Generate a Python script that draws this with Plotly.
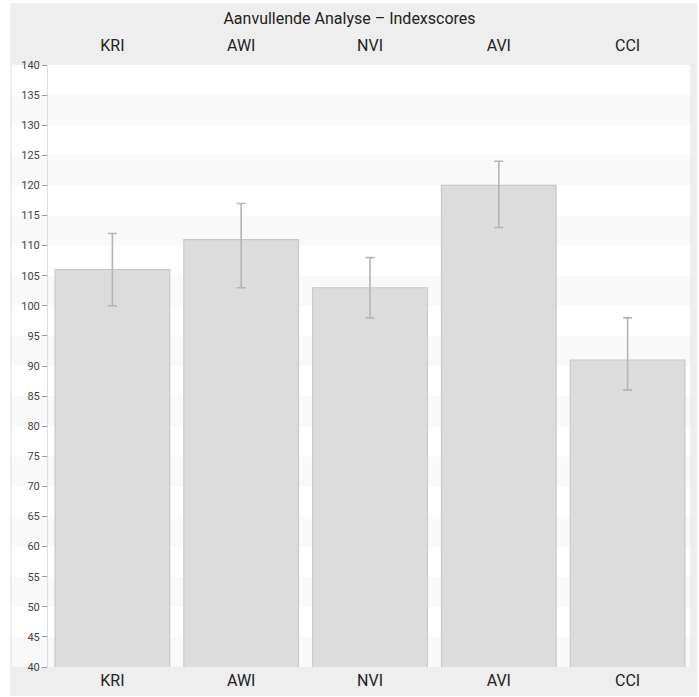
import plotly.graph_objects as go

categories = ["KRI", "AWI", "NVI", "AVI", "CCI"]
values = [106, 111, 103, 120, 91]
err_low = [100, 103, 98, 113, 86]
err_high = [112, 117, 108, 124, 98]
title_text = "Aanvullende Analyse – Indexscores"
y_min, y_max, y_step = 40, 140, 5

W, H = 699, 697
ml, mr, mt, mb = 48, 7, 65, 30

upper = [h - v for h, v in zip(err_high, values)]
lower = [v - l for v, l in zip(values, err_low)]

fig = go.Figure()
fig.add_trace(go.Bar(
    x=list(range(len(categories))), y=values,
    marker=dict(color="#dcdcdc", line=dict(color="#c8c8c8", width=1.2)),
    error_y=dict(type="data", symmetric=False, array=upper, arrayminus=lower,
                 color="#b4b4b4", thickness=1.6, width=4.5),
    hoverinfo="skip", showlegend=False,
))
# invisible trace for top axis
fig.add_trace(go.Scatter(x=list(range(len(categories))), y=[None]*len(categories),
                         xaxis="x2", showlegend=False, hoverinfo="skip", mode="markers"))

shapes = []
pw = W - ml - mr
ph = H - mt - mb
left_paper = (10 - ml) / pw
right_paper = (697 - ml) / pw
panel_l = (11 - ml) / pw
panel_r = (691 - ml) / pw
# outer gray box
shapes.append(dict(type="rect", xref="paper", yref="paper", x0=left_paper, x1=right_paper,
                   y0=-(696 - (H - mb)) / ph, y1=1 + (mt - 3) / ph,
                   fillcolor="#eeeeee", line=dict(width=0), layer="below"))
# white plot panel incl. left gutter
shapes.append(dict(type="rect", xref="paper", yref="y", x0=panel_l, x1=panel_r,
                   y0=y_min, y1=y_max, fillcolor="#ffffff", line=dict(width=0), layer="below"))
# alternating bands
for b in range(y_min, y_max, 2 * y_step):
    shapes.append(dict(type="rect", xref="paper", yref="y", x0=panel_l, x1=panel_r,
                       y0=b, y1=b + y_step, fillcolor="#f9f9f9", line=dict(width=0), layer="below"))
# gutter edge lines
shapes.append(dict(type="line", xref="paper", yref="y", x0=panel_l, x1=panel_l,
                   y0=y_min, y1=y_max, line=dict(color="#e6e6e6", width=1), layer="below"))
shapes.append(dict(type="line", xref="paper", yref="y", x0=panel_r, x1=panel_r,
                   y0=y_min, y1=y_max, line=dict(color="#e6e6e6", width=1), layer="below"))

fig.update_layout(
    width=W, height=H,
    margin=dict(l=ml, r=mr, t=mt, b=mb, autoexpand=False),
    paper_bgcolor="#ffffff", plot_bgcolor="rgba(0,0,0,0)",
    font=dict(family="Roboto, Arial, sans-serif", color="#222222"),
    bargap=0.11,
    shapes=shapes,
    title=dict(text=title_text, x=0.5, xanchor="center", xref="container",
               y=1 - 18 / H, yanchor="middle", font=dict(size=16, color="#222222")),
    xaxis=dict(range=[-0.5, len(categories) - 0.5], tickvals=list(range(len(categories))),
               ticktext=categories, showgrid=False, zeroline=False, showline=False,
               ticks="", automargin=False, ticklabelstandoff=2,
               tickfont=dict(size=16, color="#222222"), fixedrange=True),
    xaxis2=dict(range=[-0.5, len(categories) - 0.5], tickvals=list(range(len(categories))),
                ticktext=categories, overlaying="x", side="top", showgrid=False,
                zeroline=False, showline=False, ticks="", ticklabelstandoff=10, automargin=False,
                tickfont=dict(size=16, color="#222222")),
    yaxis=dict(range=[y_min, y_max], dtick=y_step, tick0=y_min, showgrid=False, zeroline=False,
               showline=True, linecolor="#dddddd", linewidth=1, ticks="outside", ticklen=5,
               automargin=False,
               tickcolor="#999999", tickfont=dict(size=11, color="#444444")),
)

fig.write_html("out.html", config={"displayModeBar": False},
               post_script="document.body.style.margin='0';document.body.style.overflow='hidden';")
